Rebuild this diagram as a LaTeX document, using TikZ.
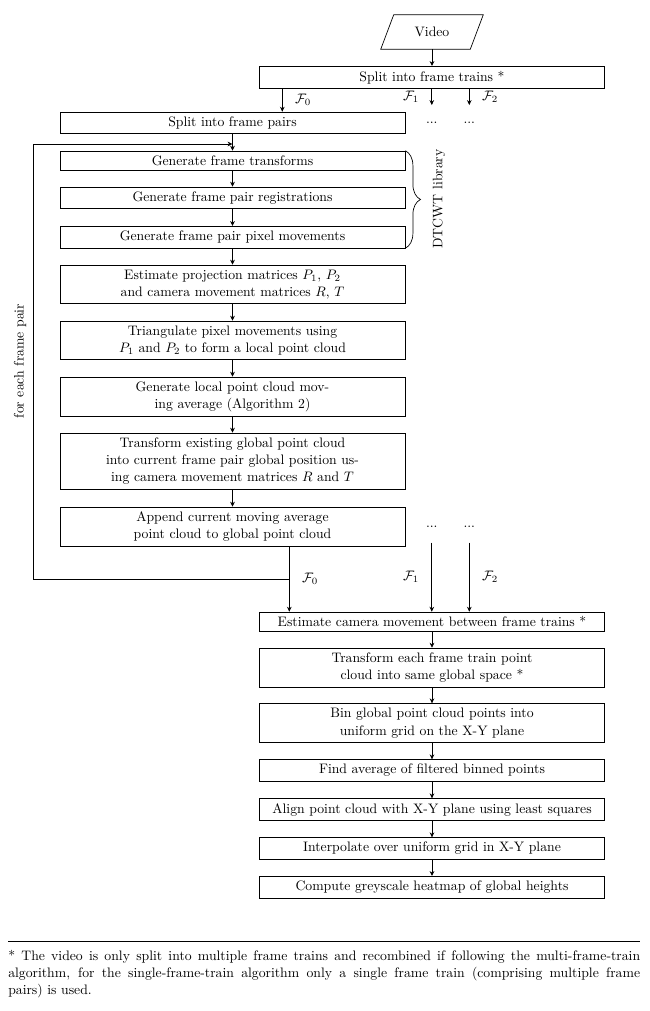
\documentclass[tikz,border=0pt]{standalone}
\usetikzlibrary{arrows.meta,decorations.pathreplacing,calc}
\begin{document}
\begin{tikzpicture}[x=0.728pt,y=-0.728pt,
  box/.style={draw, line width=0.5pt, rectangle, align=center, minimum width=251.2pt, anchor=north, font=\fontsize{10}{12.6}\selectfont},
  arr/.style={-{Stealth[length=3.6pt,width=3.4pt]}, line width=0.5pt},
  lab/.style={font=\fontsize{10}{12}\selectfont, inner sep=2pt},
  plain/.style={line width=0.5pt}
]
\useasboundingbox (0,0) rectangle (650,1011);

% Video parallelogram
\node[minimum width=64.8pt, minimum height=24.75pt, inner sep=0pt] (video) at (432,32) {Video};
\draw[plain] ($(video.south west)+(-6.5,0)$) -- ($(video.south east)+(-6.5,0)$) -- ($(video.north east)+(6.5,0)$) -- ($(video.north west)+(6.5,0)$) -- cycle;

% boxes
\node[box] (trains) at (432,66) {Split into frame trains *};
\node[box] (pairs) at (232.5,111.7) {Split into frame pairs};
\node[box] (gtrans) at (232.5,150.7) {Generate frame transforms};
\node[box] (greg) at (232.5,186.7) {Generate frame pair registrations};
\node[box] (gpix) at (232.5,226) {Generate frame pair pixel movements};
\node[box] (proj) at (232.5,264.7) {Estimate projection matrices $P_1$, $P_2$\\ and camera movement matrices $R$, $T$};
\node[box] (tri) at (232.5,320.7) {Triangulate pixel movements using\\ $P_1$ and $P_2$ to form a local point cloud};
\node[box] (local) at (232.5,376.7) {Generate local point cloud mov-\\ing average (Algorithm 2)};
\node[box] (trglob) at (232.5,432.7) {Transform existing global point cloud\\ into current frame pair global position us-\\ing camera movement matrices $R$ and $T$};
\node[box] (append) at (232.5,506.7) {Append current moving average\\ point cloud to global point cloud};

\node[box] (camera) at (432,611.7) {Estimate camera movement between frame trains *};
\node[box] (traineach) at (432,647.7) {Transform each frame train point\\ cloud into same global space *};
\node[box] (bin) at (432,703.3) {Bin global point cloud points into\\ uniform grid on the X-Y plane};
\node[box] (avg) at (432,759.3) {Find average of filtered binned points};
\node[box] (alignb) at (432,798.3) {Align point cloud with X-Y plane using least squares};
\node[box] (interp) at (432,837.3) {Interpolate over uniform grid in X-Y plane};
\node[box] (heat) at (432,876) {Compute greyscale heatmap of global heights};

% helper coordinates
\coordinate (x0) at (282.3,0);
\coordinate (x0b) at (289.3,0);
\coordinate (x1) at (431.8,0);
\coordinate (x2) at (469.3,0);
\coordinate (e1) at (431.8,105);
\coordinate (e2) at (469.3,105);
\coordinate (s1) at (431.8,542.7);
\coordinate (s2) at (469.3,542.7);
\coordinate (loopend) at (232.5,144);
\coordinate (loopj) at (289.3,579);
\coordinate (loopl) at (33,579);
\coordinate (loopt) at (33,144);

% top arrows
\draw[arr] (video.south) -- (trains.north);
\draw[arr] (trains.south -| x0) -- node[lab,right=7pt] {$\mathcal{F}_0$} (pairs.north -| x0);
\draw[arr] (trains.south -| x1) -- node[lab,left=7pt] {$\mathcal{F}_1$} (e1);
\draw[arr] (trains.south -| x2) -- node[lab,right=7pt] {$\mathcal{F}_2$} (e2);
\node[lab] (dotsa) at (431.8,123) {...};
\node[lab] (dotsb) at (469.3,123) {...};

% left chain
\draw[arr] (pairs.south) -- (gtrans.north);
\draw[arr] (gtrans.south) -- (greg.north);
\draw[arr] (greg.south) -- (gpix.north);
\draw[arr] (gpix.south) -- (proj.north);
\draw[arr] (proj.south) -- (tri.north);
\draw[arr] (tri.south) -- (local.north);
\draw[arr] (local.south) -- (trglob.north);
\draw[arr] (trglob.south) -- (append.north);

% loop
\draw[arr] (loopj) -- (loopl) -- (loopt) -- (loopend);
\node[lab, rotate=90] (foreach) at (20,361) {for each frame pair};

% brace
\draw[plain, decorate, decoration={brace, amplitude=11pt}] (gtrans.north east) -- (gpix.south east);
\node[lab, rotate=90] (dtcwt) at (439,199) {DTCWT library};

% bottom merge
\draw[arr] (append.south -| x0b) -- node[lab,right=7pt] {$\mathcal{F}_0$} (camera.north -| x0b);
\draw[arr] (s1) -- node[lab,left=7pt] {$\mathcal{F}_1$} (camera.north -| x1);
\draw[arr] (s2) -- node[lab,right=7pt] {$\mathcal{F}_2$} (camera.north -| x2);
\node[lab] (dotsc) at (431.8,526.7) {...};
\node[lab] (dotsd) at (469.3,526.7) {...};

% right chain
\draw[arr] (camera.south) -- (traineach.north);
\draw[arr] (traineach.south) -- (bin.north);
\draw[arr] (bin.south) -- (avg.north);
\draw[arr] (avg.south) -- (alignb.north);
\draw[arr] (alignb.south) -- (interp.north);
\draw[arr] (interp.south) -- (heat.north);

% footnote
\coordinate (rl) at (8,941.5);
\coordinate (rr) at (640,941.5);
\draw[line width=0.5pt] (rl) -- (rr);
\node[anchor=north west, inner sep=0pt, text width=460pt, align=justify, font=\fontsize{10}{12.4}\selectfont] (fn) at (8,950) {* The video is only split into multiple frame trains and recombined if following the multi-frame-train\linebreak algorithm, for the single-frame-train algorithm only a single frame train (comprising multiple frame\linebreak pairs) is used.};
\end{tikzpicture}
\end{document}
